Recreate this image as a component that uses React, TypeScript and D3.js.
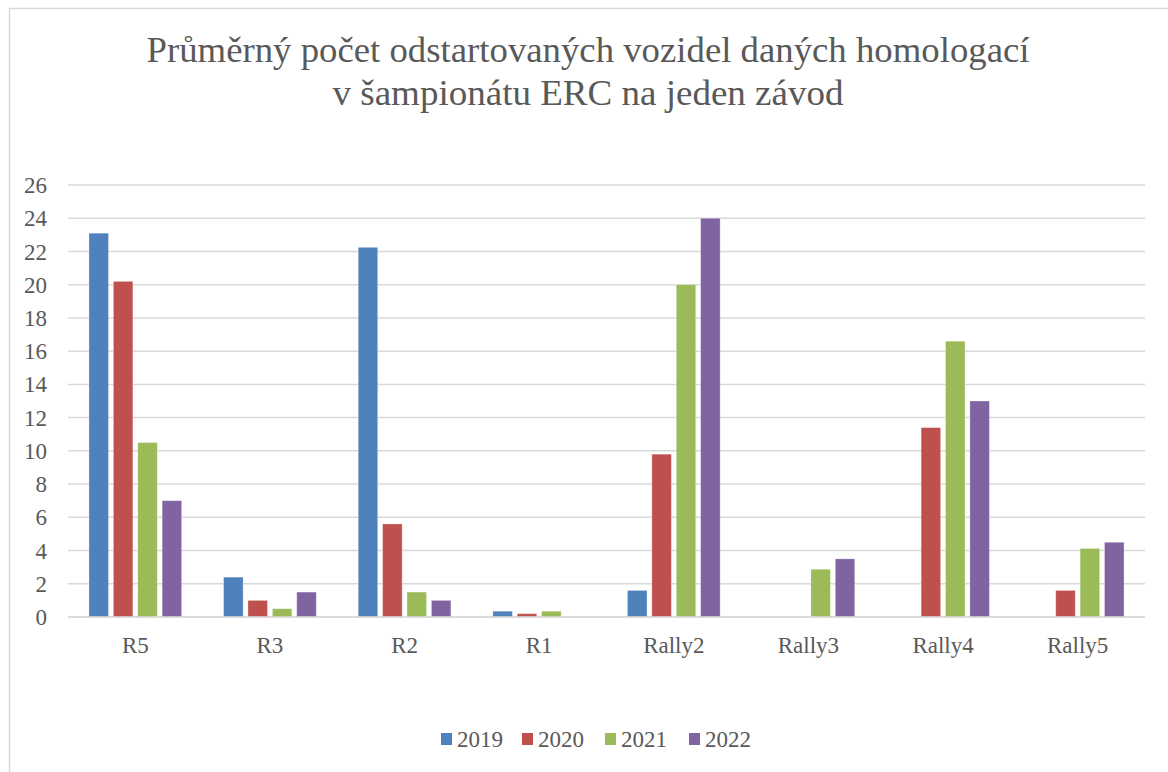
import React, { useEffect, useRef } from "react";
import * as d3 from "d3";

// chart data
const categories = ["R5", "R3", "R2", "R1", "Rally2", "Rally3", "Rally4", "Rally5"];
const seriesNames = ["2019", "2020", "2021", "2022"];
const values2019 = [23.1, 2.4, 22.25, 0.35, 1.6, 0, 0, 0];
const values2020 = [20.2, 1, 5.6, 0.2, 9.8, 0, 11.4, 1.6];
const values2021 = [10.5, 0.5, 1.5, 0.35, 20, 2.875, 16.6, 4.125];
const values2022 = [7, 1.5, 1, 0, 24, 3.5, 13, 4.5];
const yTicks = [0, 2, 4, 6, 8, 10, 12, 14, 16, 18, 20, 22, 24, 26];
const colors = ["#4F81BD", "#C0504D", "#9BBB59", "#8064A2"];
const titleLines = [
  "Průměrný počet odstartovaných vozidel daných homologací",
  "v šampionátu ERC na jeden závod",
];

const App = () => {
  const svgRef = useRef<SVGSVGElement>(null);

  const width = 1168;
  const height = 772;
  const marginLeft = 68;
  const marginRight = 23;
  const marginTop = 185;
  const plotBottom = 617;
  const textColor = "#595959";
  const font = "'Liberation Serif', 'Times New Roman', serif";

  useEffect(() => {
    if (!svgRef.current) return;
    const svg = d3.select(svgRef.current);
    svg.selectAll("*").remove(); // start clean

    const allSeries = [values2019, values2020, values2021, values2022];
    const rows = categories.map((c, i) => ({
      cat: c,
      vals: seriesNames.map((s, j) => ({ key: s, value: allSeries[j][i], color: colors[j] })),
    }));

    // chart frame
    svg
      .append("path")
      .attr("d", `M9.5,${height} L9.5,8.5 L${width},8.5`)
      .attr("fill", "none")
      .attr("stroke", "#D9D9D9")
      .attr("stroke-width", 1.5);

    // title, two lines
    const titleY = [62, 105];
    const titleW = [883, 511];
    svg
      .append("g")
      .selectAll("text")
      .data(titleLines)
      .join("text")
      .attr("x", 588)
      .attr("y", (d, i) => titleY[i])
      .attr("text-anchor", "middle")
      .attr("textLength", (d, i) => titleW[i])
      .attr("lengthAdjust", "spacingAndGlyphs")
      .attr("fill", textColor)
      .style("font-family", font)
      .style("font-size", "35px")
      .text((d) => d);

    // scales
    const x0 = d3
      .scaleBand()
      .domain(categories)
      .range([marginLeft, width - marginRight])
      .padding(0);

    const x1 = d3
      .scaleBand()
      .domain(seriesNames)
      .range([0, x0.bandwidth()])
      .paddingInner(0.2)
      .paddingOuter(0.86);

    const y = d3.scaleLinear().domain([0, 26]).range([plotBottom, marginTop]);

    // gridlines
    svg
      .append("g")
      .selectAll("line")
      .data(yTicks)
      .join("line")
      .attr("x1", marginLeft)
      .attr("x2", width - marginRight)
      .attr("y1", (d) => y(d))
      .attr("y2", (d) => y(d))
      .attr("stroke", "#D9D9D9")
      .attr("stroke-width", 1.5);

    // y tick labels
    svg
      .append("g")
      .selectAll("text")
      .data(yTicks)
      .join("text")
      .attr("x", 47)
      .attr("y", (d) => y(d))
      .attr("dy", "0.35em")
      .attr("text-anchor", "end")
      .attr("fill", textColor)
      .style("font-family", font)
      .style("font-size", "23px")
      .text((d) => d);

    // bars
    svg
      .append("g")
      .selectAll("g")
      .data(rows)
      .join("g")
      .attr("transform", (d) => `translate(${x0(d.cat)},0)`)
      .selectAll("rect")
      .data((d) => d.vals.filter((v) => v.value > 0))
      .join("rect")
      .attr("x", (d) => x1(d.key)!)
      .attr("width", x1.bandwidth())
      .attr("y", (d) => y(d.value))
      .attr("height", (d) => plotBottom - y(d.value))
      .attr("fill", (d) => d.color)
      .attr("stroke", "#fff")
      .attr("stroke-opacity", 0.4)
      .attr("stroke-width", 0.75);

    // baseline redraw
    svg
      .append("line")
      .attr("x1", marginLeft)
      .attr("x2", width - marginRight)
      .attr("y1", y(0))
      .attr("y2", y(0))
      .attr("stroke", "#D9D9D9")
      .attr("stroke-width", 1.5);

    // x labels
    svg
      .append("g")
      .selectAll("text")
      .data(categories)
      .join("text")
      .attr("x", (d) => x0(d)! + x0.bandwidth() / 2)
      .attr("y", 653)
      .attr("text-anchor", "middle")
      .attr("fill", textColor)
      .style("font-family", font)
      .style("font-size", "23px")
      .text((d) => d);

    // legend
    const legendX = [441, 522, 605, 689];
    const legend = svg
      .append("g")
      .selectAll("g")
      .data(seriesNames)
      .join("g")
      .attr("transform", (d, i) => `translate(${legendX[i]},747)`);

    legend
      .append("rect")
      .attr("x", 0)
      .attr("y", -14)
      .attr("width", 11)
      .attr("height", 12)
      .attr("fill", (d, i) => colors[i]);

    legend
      .append("text")
      .attr("x", 16)
      .attr("y", 0)
      .attr("fill", textColor)
      .style("font-family", font)
      .style("font-size", "23px")
      .text((d) => d);
  }, []);

  return (
    <svg
      ref={svgRef}
      width={width}
      height={height}
      style={{ position: "absolute", left: 0, top: 0, background: "#fff" }}
    ></svg>
  );
};

export default App;
